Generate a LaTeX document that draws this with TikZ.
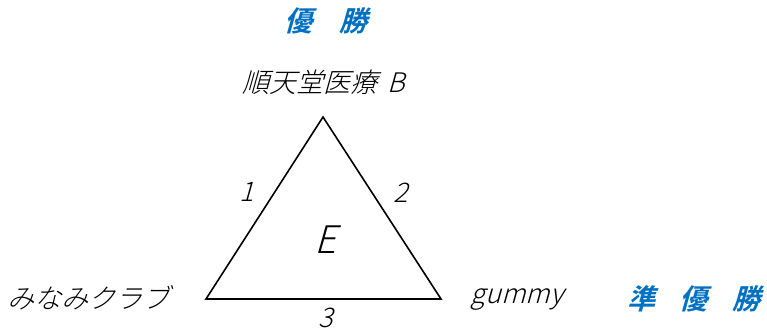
\documentclass[tikz,border=0pt]{standalone}
\usepackage{fontspec}
\newfontfamily\jp[FakeSlant=0.28]{Noto Sans CJK JP Light}
\newfontfamily\jpb[FakeSlant=0.28]{Noto Sans CJK JP Bold}
\definecolor{winblue}{RGB}{0,112,192}
\begin{document}
\begin{tikzpicture}[x=1pt,y=-1pt,
  lbl/.style={font=\jp\fontsize{27}{27}\selectfont, inner sep=0pt, anchor=center},
  big/.style={font=\jp\fontsize{38}{38}\selectfont, inner sep=0pt, anchor=center},
  win/.style={font=\jpb\fontsize{28}{28}\selectfont, text=winblue, inner sep=0pt, anchor=center},
  edge/.style={draw=black, line width=1.6pt, line join=miter}]
\useasboundingbox (0,0) rectangle (767,331);
\coordinate (top) at (323,117);
\coordinate (bl) at (206,299);
\coordinate (br) at (441,299);
\draw[edge] (top) -- (bl) -- (br) -- cycle;
\node[win] (first) at (326,21) {優\hspace{27pt}勝};
\node[lbl] (junten) at (324,82) {順天堂医療\hspace{10pt}B};
\node[lbl] (minami) at (88,298) {みなみクラブ};
\node[lbl] (gummy) at (517,300) {gummy};
\node[win] (second) at (694,299) {準\hspace{25pt}優\hspace{25pt}勝};
\node[lbl] (e1) at (247,192) {1};
\node[lbl] (e2) at (401,193) {2};
\node[lbl] (e3) at (326,318) {3};
\node[big] (E) at (325,240) {E};
\end{tikzpicture}
\end{document}
